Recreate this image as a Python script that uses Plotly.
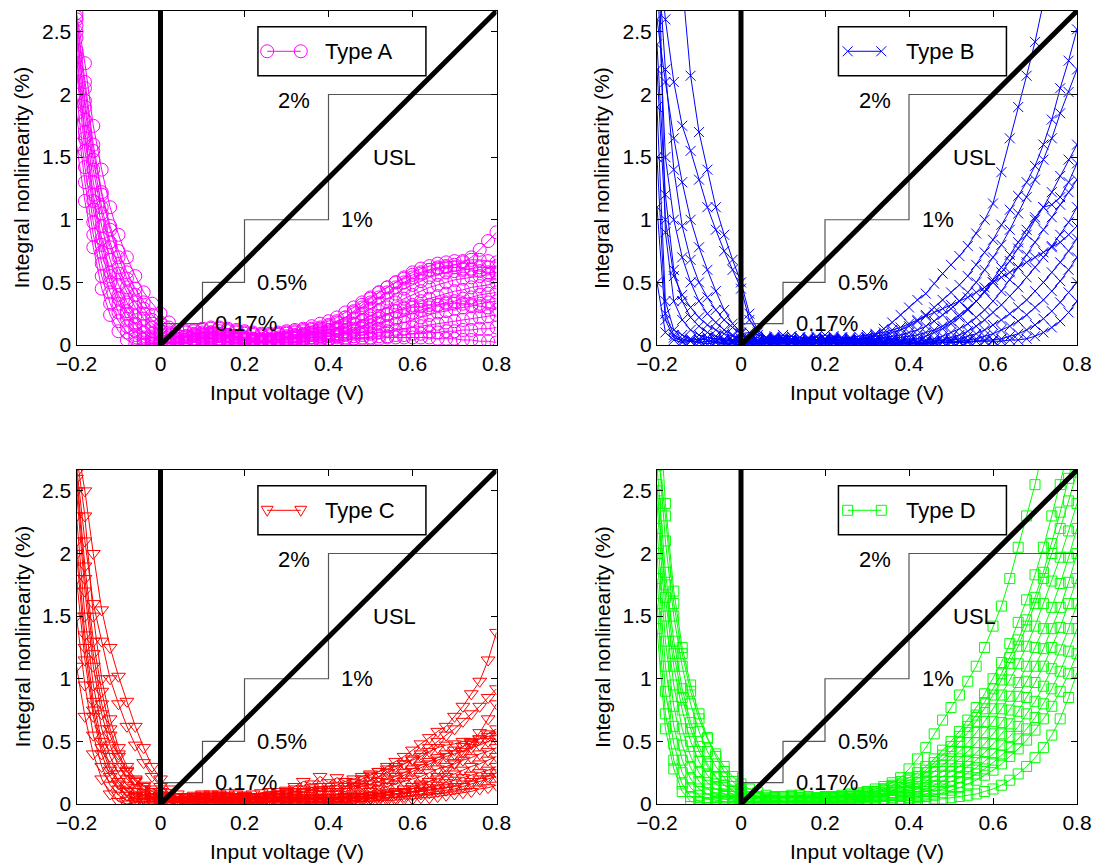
import plotly.graph_objects as go

# ---------------- data ----------------
VOLTS = [-0.20, -0.18, -0.16, -0.14, -0.12, -0.10, -0.08, -0.06, -0.04, -0.02, 0.00,
         0.02, 0.04, 0.06, 0.08, 0.10, 0.12, 0.14, 0.16, 0.18, 0.20,
         0.22, 0.24, 0.26, 0.28, 0.30, 0.32, 0.34, 0.36, 0.38, 0.40,
         0.42, 0.44, 0.46, 0.48, 0.50, 0.52, 0.54, 0.56, 0.58, 0.60,
         0.62, 0.64, 0.66, 0.68, 0.70, 0.72, 0.74, 0.76, 0.78, 0.80]

X_TICKS = [-0.2, 0, 0.2, 0.4, 0.6, 0.8]
Y_TICKS = [0, 0.5, 1, 1.5, 2, 2.5]
Y_MAX = 2.6667

STEP_X = [0, 0.1, 0.1, 0.2, 0.2, 0.4, 0.4, 0.8]
STEP_Y = [0.17, 0.17, 0.5, 0.5, 1.0, 1.0, 2.0, 2.0]
USL_X = [0, 0.8]
USL_Y = [0, 2.6667]
ZERO_X = [0, 0]
ZERO_Y = [0, 2.6667]
LIMIT_LABELS = ["0.17%", "0.5%", "1%", "2%", "USL"]
LIMIT_LABEL_X = [0.125, 0.225, 0.425, 0.275, 0.50]
LIMIT_LABEL_Y = [0.17, 0.50, 1.00, 1.95, 1.50]

# Type A
A01 = [2.65,2.25,1.75,1.40,1.10,0.88,0.70,0.55,0.42,0.33,0.25, 0.18,0.12,0.10,0.11,0.12,0.13,0.13,0.12,0.11,0.10,0.09,0.08,0.08,0.09,0.10,0.11,0.12,0.13,0.14,0.16, 0.19,0.22,0.26,0.30,0.34,0.38,0.42,0.46,0.50,0.54,0.57,0.60,0.62,0.63,0.64,0.66,0.70,0.76,0.83,0.90]
A02 = [2.60,2.05,1.55,1.20,0.92,0.70,0.53,0.40,0.29,0.20,0.14, 0.10,0.08,0.07,0.08,0.09,0.10,0.11,0.11,0.10,0.09,0.08,0.07,0.07,0.08,0.09,0.10,0.11,0.12,0.13,0.15, 0.18,0.22,0.27,0.32,0.37,0.42,0.46,0.50,0.54,0.58,0.61,0.63,0.65,0.66,0.67,0.67,0.68,0.68,0.67,0.66]
A03 = [2.55,1.90,1.40,1.05,0.78,0.57,0.42,0.30,0.21,0.14,0.09, 0.06,0.04,0.03,0.04,0.05,0.06,0.07,0.07,0.06,0.05,0.05,0.04,0.04,0.05,0.06,0.07,0.08,0.09,0.10,0.12, 0.14,0.17,0.21,0.25,0.29,0.33,0.37,0.41,0.45,0.48,0.51,0.54,0.56,0.58,0.59,0.60,0.61,0.62,0.62,0.63]
A04 = [2.45,1.80,1.30,0.95,0.68,0.48,0.34,0.23,0.15,0.09,0.05, 0.03,0.02,0.02,0.03,0.04,0.05,0.05,0.05,0.04,0.04,0.03,0.03,0.03,0.04,0.05,0.06,0.07,0.08,0.09,0.10, 0.12,0.14,0.17,0.20,0.23,0.27,0.30,0.34,0.37,0.40,0.43,0.46,0.48,0.50,0.52,0.53,0.54,0.55,0.56,0.57]
A05 = [2.35,1.70,1.20,0.85,0.58,0.40,0.27,0.17,0.10,0.05,0.02, 0.01,0.01,0.02,0.03,0.03,0.04,0.04,0.03,0.03,0.02,0.02,0.02,0.03,0.03,0.04,0.05,0.05,0.06,0.07,0.08, 0.09,0.11,0.13,0.15,0.18,0.21,0.24,0.27,0.30,0.32,0.35,0.37,0.39,0.41,0.43,0.44,0.46,0.47,0.48,0.50]
A06 = [2.20,1.55,1.08,0.74,0.50,0.33,0.21,0.12,0.06,0.03,0.01, 0.01,0.02,0.03,0.04,0.05,0.05,0.05,0.04,0.04,0.03,0.03,0.03,0.04,0.04,0.05,0.05,0.06,0.06,0.07,0.07, 0.08,0.09,0.11,0.13,0.15,0.17,0.19,0.21,0.23,0.26,0.28,0.30,0.32,0.34,0.35,0.37,0.38,0.40,0.41,0.42]
A07 = [2.00,1.42,0.98,0.65,0.42,0.26,0.15,0.08,0.04,0.02,0.01, 0.02,0.03,0.04,0.05,0.06,0.06,0.05,0.05,0.04,0.04,0.03,0.03,0.03,0.04,0.04,0.05,0.05,0.06,0.06,0.07, 0.07,0.08,0.09,0.10,0.12,0.13,0.15,0.17,0.18,0.20,0.22,0.24,0.26,0.27,0.29,0.30,0.31,0.33,0.34,0.35]
A08 = [1.85,1.30,0.88,0.55,0.33,0.19,0.10,0.05,0.02,0.01,0.00, 0.02,0.04,0.06,0.07,0.08,0.08,0.07,0.06,0.05,0.04,0.03,0.02,0.02,0.02,0.03,0.03,0.04,0.04,0.05,0.05, 0.06,0.06,0.07,0.08,0.09,0.10,0.11,0.12,0.13,0.14,0.15,0.16,0.17,0.18,0.19,0.20,0.21,0.22,0.23,0.24]
A09 = [1.60,1.15,0.78,0.45,0.24,0.11,0.04,0.01,0.00,0.01,0.02, 0.03,0.05,0.07,0.09,0.10,0.10,0.09,0.08,0.06,0.05,0.04,0.03,0.02,0.02,0.02,0.03,0.03,0.03,0.04,0.04, 0.04,0.05,0.05,0.06,0.06,0.07,0.07,0.08,0.08,0.09,0.09,0.10,0.10,0.11,0.11,0.12,0.12,0.13,0.13,0.14]
A10 = [2.62,2.10,1.60,1.22,0.95,0.75,0.58,0.45,0.34,0.24,0.17, 0.14,0.12,0.11,0.12,0.13,0.14,0.14,0.13,0.12,0.11,0.10,0.09,0.09,0.10,0.11,0.12,0.13,0.15,0.17,0.19, 0.22,0.26,0.30,0.34,0.38,0.42,0.46,0.50,0.53,0.56,0.58,0.60,0.61,0.62,0.62,0.61,0.60,0.59,0.58,0.58]
A11 = [2.50,1.95,1.48,1.10,0.82,0.62,0.46,0.34,0.25,0.17,0.11, 0.07,0.05,0.04,0.05,0.06,0.07,0.08,0.08,0.07,0.06,0.05,0.05,0.05,0.06,0.07,0.08,0.09,0.10,0.11,0.12, 0.13,0.15,0.17,0.19,0.21,0.23,0.25,0.27,0.29,0.30,0.31,0.32,0.32,0.33,0.33,0.33,0.32,0.31,0.30,0.28]
A12 = [2.30,1.65,1.15,0.80,0.55,0.37,0.25,0.16,0.10,0.06,0.03, 0.02,0.01,0.01,0.02,0.02,0.03,0.03,0.02,0.02,0.01,0.01,0.01,0.01,0.02,0.02,0.02,0.03,0.03,0.03,0.04, 0.04,0.04,0.05,0.05,0.05,0.05,0.06,0.06,0.06,0.06,0.06,0.06,0.05,0.05,0.05,0.04,0.04,0.03,0.03,0.02]

# Type B
B01 = [4.00,3.60,3.30,2.90,2.15,1.70,1.40,1.10,0.88,0.68,0.50, 0.25,0.12,0.06,0.05,0.05,0.04,0.03,0.03,0.04,0.05,0.05,0.04,0.04,0.05,0.06,0.08,0.13,0.18,0.24,0.30, 0.36,0.41,0.49,0.57,0.64,0.71,0.79,0.89,1.00,1.13,1.38,1.65,1.90,2.15,2.42,2.75,3.10,3.40,3.70,4.00]
B02 = [3.30,2.60,2.10,1.75,1.55,1.32,1.10,0.92,0.75,0.60,0.45, 0.20,0.10,0.06,0.05,0.06,0.07,0.06,0.05,0.04,0.05,0.06,0.06,0.05,0.05,0.06,0.07,0.08,0.10,0.12,0.15, 0.19,0.24,0.30,0.36,0.42,0.48,0.55,0.64,0.74,0.84,0.96,1.08,1.19,1.30,1.43,1.60,1.80,2.05,2.27,2.52]
B03 = [2.60,2.10,1.65,1.30,1.00,0.78,0.60,0.43,0.28,0.17,0.10, 0.04,0.03,0.05,0.06,0.05,0.04,0.04,0.05,0.06,0.05,0.04,0.04,0.05,0.04,0.05,0.05,0.06,0.07,0.08,0.10, 0.12,0.15,0.19,0.24,0.29,0.35,0.42,0.50,0.60,0.70,0.80,0.92,1.05,1.18,1.32,1.48,1.65,1.85,2.02,2.20]
B04 = [3.00,1.50,1.00,0.70,0.50,0.35,0.25,0.18,0.12,0.08,0.05, 0.03,0.02,0.03,0.04,0.03,0.02,0.03,0.04,0.03,0.02,0.03,0.04,0.03,0.03,0.04,0.04,0.05,0.05,0.06,0.07, 0.08,0.10,0.12,0.15,0.19,0.24,0.29,0.35,0.42,0.50,0.58,0.67,0.77,0.88,1.00,1.10,1.22,1.35,1.48,1.60]
B05 = [2.40,1.20,0.60,0.35,0.22,0.15,0.10,0.07,0.05,0.04,0.03, 0.02,0.03,0.02,0.03,0.04,0.03,0.02,0.02,0.03,0.04,0.03,0.02,0.03,0.03,0.02,0.03,0.03,0.04,0.04,0.05, 0.05,0.07,0.10,0.13,0.17,0.22,0.28,0.35,0.43,0.52,0.62,0.72,0.82,0.92,1.02,1.10,1.12,1.18,1.30,1.45]
B06 = [1.90,0.35,0.12,0.08,0.05,0.04,0.06,0.05,0.03,0.04,0.02, 0.05,0.06,0.04,0.03,0.04,0.05,0.06,0.05,0.04,0.03,0.04,0.05,0.04,0.03,0.03,0.03,0.03,0.03,0.03,0.03, 0.03,0.04,0.05,0.07,0.10,0.13,0.17,0.22,0.28,0.35,0.43,0.52,0.62,0.72,0.82,0.92,1.02,1.12,1.22,1.32]
B07 = [1.50,0.25,0.08,0.05,0.03,0.05,0.04,0.03,0.02,0.03,0.01, 0.02,0.01,0.02,0.02,0.03,0.02,0.01,0.02,0.02,0.03,0.02,0.01,0.02,0.02,0.02,0.02,0.02,0.02,0.02,0.02, 0.02,0.03,0.03,0.04,0.06,0.08,0.11,0.15,0.20,0.26,0.32,0.39,0.46,0.54,0.62,0.70,0.79,0.88,0.98,1.10]
B08 = [1.10,0.20,0.06,0.03,0.04,0.02,0.03,0.02,0.01,0.02,0.01, 0.01,0.02,0.01,0.01,0.02,0.02,0.01,0.01,0.02,0.02,0.01,0.01,0.02,0.02,0.01,0.01,0.02,0.02,0.02,0.02, 0.02,0.02,0.03,0.03,0.04,0.05,0.07,0.09,0.12,0.16,0.20,0.25,0.30,0.36,0.43,0.50,0.58,0.66,0.75,0.85]
B09 = [0.50,0.10,0.04,0.02,0.03,0.02,0.01,0.02,0.01,0.01,0.00, 0.01,0.01,0.02,0.01,0.01,0.01,0.02,0.01,0.01,0.01,0.02,0.01,0.01,0.01,0.01,0.01,0.01,0.01,0.01,0.01, 0.01,0.02,0.02,0.02,0.03,0.03,0.04,0.05,0.07,0.09,0.12,0.15,0.19,0.24,0.30,0.36,0.43,0.51,0.60,0.70]
B10 = [3.80,0.90,0.35,0.20,0.12,0.08,0.06,0.05,0.04,0.03,0.02, 0.02,0.03,0.04,0.05,0.04,0.03,0.02,0.03,0.04,0.05,0.04,0.03,0.02,0.02,0.01,0.01,0.01,0.01,0.01,0.01, 0.01,0.01,0.02,0.02,0.02,0.03,0.03,0.03,0.04,0.04,0.05,0.07,0.09,0.12,0.16,0.21,0.27,0.34,0.42,0.50]
B11 = [2.20,1.00,0.55,0.40,0.30,0.22,0.16,0.12,0.09,0.07,0.05, 0.03,0.04,0.03,0.02,0.02,0.03,0.03,0.02,0.02,0.03,0.02,0.02,0.01,0.01,0.01,0.01,0.01,0.01,0.01,0.01, 0.01,0.01,0.01,0.02,0.02,0.02,0.02,0.03,0.03,0.03,0.03,0.04,0.04,0.05,0.07,0.10,0.14,0.19,0.26,0.35]
B12 = [3.20,2.20,1.40,0.95,0.68,0.50,0.38,0.28,0.20,0.14,0.09, 0.10,0.08,0.06,0.07,0.08,0.07,0.06,0.06,0.07,0.08,0.07,0.06,0.06,0.07,0.08,0.09,0.10,0.12,0.14,0.17, 0.20,0.23,0.26,0.29,0.32,0.35,0.38,0.42,0.46,0.50,0.54,0.58,0.62,0.66,0.70,0.74,0.78,0.82,0.88,0.95]

# Type C
C01 = [2.90,2.50,2.00,1.55,1.25,1.02,0.82,0.62,0.45,0.30,0.20, 0.12,0.08,0.06,0.05,0.06,0.07,0.08,0.09,0.08,0.07,0.06,0.06,0.07,0.08,0.09,0.10,0.10,0.11,0.11,0.12, 0.12,0.14,0.17,0.20,0.23,0.26,0.30,0.34,0.38,0.43,0.48,0.53,0.58,0.62,0.70,0.78,0.88,0.98,1.15,1.37]
C02 = [2.70,2.10,1.60,1.30,1.00,0.80,0.62,0.47,0.33,0.22,0.14, 0.09,0.06,0.05,0.04,0.05,0.06,0.07,0.07,0.06,0.05,0.05,0.06,0.07,0.07,0.08,0.08,0.09,0.09,0.10,0.10, 0.10,0.12,0.14,0.16,0.19,0.22,0.25,0.28,0.32,0.36,0.40,0.45,0.50,0.55,0.60,0.66,0.72,0.78,0.85,0.92]
C03 = [2.65,1.90,1.30,0.90,0.60,0.40,0.27,0.18,0.12,0.08,0.05, 0.04,0.03,0.03,0.04,0.05,0.05,0.04,0.04,0.05,0.05,0.04,0.04,0.05,0.06,0.06,0.07,0.07,0.08,0.08,0.08, 0.08,0.10,0.12,0.14,0.16,0.18,0.20,0.22,0.25,0.28,0.31,0.34,0.37,0.40,0.43,0.46,0.49,0.52,0.56,0.60]
C04 = [2.50,1.70,1.10,0.72,0.47,0.30,0.20,0.13,0.09,0.06,0.04, 0.03,0.02,0.03,0.03,0.04,0.04,0.03,0.03,0.04,0.04,0.05,0.05,0.06,0.08,0.10,0.14,0.18,0.16,0.22,0.17, 0.21,0.18,0.15,0.12,0.13,0.15,0.17,0.20,0.23,0.26,0.29,0.32,0.35,0.38,0.40,0.42,0.45,0.47,0.50,0.52]
C05 = [2.30,1.50,0.95,0.60,0.38,0.24,0.15,0.10,0.07,0.05,0.03, 0.02,0.02,0.03,0.03,0.02,0.02,0.03,0.03,0.03,0.02,0.02,0.03,0.03,0.03,0.04,0.04,0.04,0.04,0.05,0.05, 0.05,0.06,0.07,0.08,0.10,0.12,0.14,0.16,0.18,0.20,0.22,0.25,0.28,0.30,0.32,0.35,0.37,0.40,0.42,0.45]
C06 = [2.10,1.35,0.82,0.50,0.30,0.18,0.11,0.07,0.05,0.04,0.03, 0.02,0.03,0.04,0.04,0.03,0.03,0.02,0.02,0.03,0.03,0.04,0.04,0.03,0.03,0.03,0.03,0.04,0.04,0.04,0.04, 0.04,0.05,0.05,0.06,0.07,0.08,0.09,0.10,0.12,0.14,0.16,0.18,0.20,0.22,0.24,0.27,0.30,0.32,0.35,0.38]
C07 = [1.80,1.15,0.70,0.40,0.22,0.12,0.07,0.05,0.04,0.03,0.02, 0.02,0.01,0.01,0.02,0.02,0.02,0.01,0.01,0.02,0.02,0.02,0.02,0.02,0.02,0.03,0.03,0.03,0.03,0.03,0.03, 0.03,0.04,0.04,0.05,0.05,0.06,0.07,0.08,0.09,0.10,0.11,0.13,0.15,0.17,0.19,0.21,0.23,0.25,0.27,0.30]
C08 = [1.50,0.95,0.55,0.30,0.15,0.07,0.03,0.02,0.02,0.02,0.01, 0.01,0.01,0.02,0.02,0.01,0.01,0.01,0.02,0.02,0.01,0.01,0.01,0.02,0.02,0.02,0.02,0.02,0.02,0.02,0.02, 0.02,0.02,0.03,0.03,0.04,0.04,0.05,0.05,0.06,0.07,0.08,0.09,0.10,0.11,0.12,0.14,0.16,0.18,0.20,0.22]
C09 = [1.10,0.70,0.40,0.20,0.08,0.02,0.00,0.01,0.01,0.02,0.01, 0.01,0.02,0.02,0.01,0.01,0.01,0.01,0.01,0.01,0.01,0.01,0.01,0.01,0.01,0.01,0.01,0.01,0.01,0.01,0.01, 0.01,0.01,0.02,0.02,0.02,0.03,0.03,0.03,0.04,0.04,0.05,0.05,0.06,0.07,0.08,0.09,0.10,0.12,0.13,0.15]
C10 = [2.80,2.30,1.50,1.00,0.68,0.45,0.30,0.20,0.14,0.10,0.07, 0.06,0.05,0.06,0.07,0.08,0.08,0.07,0.06,0.06,0.07,0.08,0.09,0.10,0.10,0.11,0.12,0.12,0.13,0.14,0.14, 0.15,0.18,0.20,0.22,0.24,0.26,0.28,0.30,0.32,0.35,0.38,0.42,0.45,0.47,0.48,0.50,0.50,0.52,0.54,0.55]
C11 = [2.60,1.80,1.20,0.80,0.55,0.38,0.26,0.19,0.15,0.12,0.10, 0.07,0.06,0.05,0.06,0.07,0.06,0.05,0.05,0.04,0.04,0.03,0.03,0.03,0.03,0.02,0.02,0.02,0.02,0.02,0.02, 0.02,0.03,0.03,0.04,0.05,0.06,0.07,0.08,0.10,0.12,0.15,0.18,0.22,0.27,0.33,0.40,0.48,0.57,0.68,0.80]
C12 = [2.00,1.25,0.75,0.45,0.27,0.16,0.10,0.06,0.04,0.02,0.01, 0.02,0.02,0.03,0.04,0.05,0.06,0.06,0.05,0.05,0.06,0.06,0.05,0.05,0.05,0.05,0.05,0.05,0.05,0.05,0.05, 0.05,0.05,0.06,0.06,0.07,0.07,0.08,0.08,0.09,0.10,0.10,0.11,0.12,0.13,0.14,0.16,0.18,0.20,0.22,0.25]

# Type D
D01 = [3.50,2.40,1.70,1.25,0.95,0.72,0.53,0.38,0.26,0.18,0.12, 0.08,0.06,0.05,0.05,0.06,0.06,0.05,0.05,0.05,0.06,0.06,0.07,0.08,0.09,0.10,0.12,0.14,0.17,0.21,0.28, 0.36,0.45,0.56,0.67,0.77,0.87,0.98,1.10,1.25,1.42,1.58,1.80,2.05,2.30,2.55,2.85,3.20,3.50,3.80,4.10]
D02 = [3.00,2.10,1.50,1.10,0.80,0.58,0.42,0.30,0.21,0.14,0.09, 0.06,0.05,0.04,0.04,0.05,0.05,0.04,0.04,0.04,0.05,0.05,0.06,0.06,0.07,0.08,0.10,0.12,0.15,0.18,0.21, 0.25,0.30,0.36,0.43,0.50,0.58,0.67,0.77,0.88,1.00,1.13,1.28,1.45,1.63,1.83,2.05,2.30,2.55,2.80,3.10]
D03 = [2.70,1.85,1.30,0.92,0.65,0.46,0.32,0.22,0.15,0.10,0.07, 0.05,0.04,0.03,0.03,0.04,0.04,0.03,0.03,0.04,0.04,0.05,0.05,0.06,0.07,0.08,0.09,0.11,0.13,0.15,0.17, 0.20,0.25,0.30,0.36,0.42,0.49,0.57,0.66,0.76,0.87,0.99,1.12,1.26,1.42,1.60,1.80,2.00,2.20,2.42,2.65]
D04 = [2.55,1.65,1.10,0.75,0.50,0.34,0.23,0.16,0.11,0.08,0.05, 0.04,0.03,0.03,0.03,0.02,0.02,0.03,0.03,0.03,0.04,0.04,0.05,0.05,0.06,0.07,0.08,0.09,0.11,0.13,0.15, 0.17,0.21,0.26,0.31,0.36,0.42,0.49,0.57,0.66,0.76,0.87,0.99,1.12,1.26,1.42,1.60,1.78,1.97,2.18,2.40]
D05 = [2.40,1.50,0.95,0.60,0.38,0.25,0.17,0.12,0.08,0.06,0.04, 0.03,0.02,0.02,0.02,0.03,0.03,0.02,0.02,0.03,0.03,0.03,0.04,0.04,0.05,0.06,0.07,0.08,0.09,0.10,0.12, 0.14,0.18,0.22,0.26,0.31,0.36,0.42,0.49,0.57,0.66,0.76,0.86,0.97,1.10,1.25,1.40,1.57,1.76,1.97,2.20]
D06 = [2.20,1.30,0.78,0.47,0.29,0.18,0.12,0.08,0.06,0.04,0.03, 0.02,0.02,0.03,0.03,0.02,0.02,0.02,0.02,0.02,0.03,0.03,0.03,0.04,0.04,0.05,0.06,0.07,0.08,0.09,0.10, 0.12,0.15,0.18,0.22,0.26,0.30,0.35,0.41,0.48,0.56,0.65,0.75,0.86,0.98,1.10,1.24,1.40,1.57,1.77,2.00]
D07 = [2.00,1.10,0.62,0.35,0.20,0.12,0.08,0.05,0.04,0.03,0.02, 0.02,0.01,0.01,0.02,0.02,0.01,0.01,0.02,0.02,0.02,0.02,0.03,0.03,0.04,0.04,0.05,0.06,0.07,0.08,0.09, 0.10,0.12,0.15,0.18,0.22,0.26,0.30,0.35,0.41,0.48,0.56,0.64,0.74,0.85,0.97,1.10,1.25,1.41,1.60,1.80]
D08 = [1.80,0.90,0.48,0.25,0.13,0.07,0.04,0.03,0.02,0.02,0.01, 0.01,0.01,0.01,0.01,0.02,0.02,0.01,0.01,0.01,0.02,0.02,0.02,0.02,0.03,0.03,0.04,0.04,0.05,0.06,0.07, 0.08,0.10,0.12,0.15,0.18,0.21,0.25,0.29,0.34,0.40,0.47,0.54,0.62,0.72,0.82,0.94,1.08,1.23,1.40,1.60]
D09 = [1.60,0.72,0.35,0.16,0.06,0.02,0.01,0.01,0.02,0.01,0.01, 0.01,0.01,0.01,0.01,0.01,0.01,0.01,0.01,0.01,0.01,0.01,0.02,0.02,0.02,0.02,0.03,0.03,0.04,0.04,0.05, 0.06,0.08,0.10,0.12,0.14,0.17,0.20,0.24,0.28,0.33,0.39,0.45,0.52,0.60,0.69,0.80,0.92,1.06,1.22,1.40]
D10 = [1.40,0.60,0.28,0.10,0.02,0.01,0.01,0.02,0.01,0.01,0.00, 0.01,0.01,0.01,0.01,0.01,0.01,0.01,0.01,0.01,0.01,0.01,0.01,0.01,0.01,0.02,0.02,0.02,0.03,0.03,0.04, 0.05,0.06,0.07,0.09,0.11,0.13,0.16,0.19,0.23,0.27,0.32,0.38,0.44,0.51,0.59,0.68,0.78,0.90,1.04,1.20]
D11 = [2.90,2.30,1.60,1.20,0.90,0.68,0.52,0.40,0.30,0.22,0.16, 0.12,0.09,0.07,0.06,0.06,0.07,0.07,0.06,0.05,0.05,0.04,0.04,0.04,0.03,0.03,0.03,0.03,0.03,0.03,0.03, 0.03,0.03,0.04,0.04,0.05,0.06,0.07,0.08,0.10,0.12,0.15,0.19,0.24,0.30,0.37,0.45,0.55,0.68,0.85,1.05]
D12 = [2.50,1.75,1.20,0.85,0.60,0.42,0.30,0.21,0.15,0.11,0.08, 0.06,0.05,0.04,0.05,0.06,0.06,0.05,0.04,0.04,0.05,0.05,0.06,0.07,0.08,0.09,0.10,0.12,0.14,0.16,0.19, 0.22,0.27,0.33,0.39,0.46,0.54,0.62,0.71,0.81,0.92,1.04,1.17,1.31,1.47,1.65,1.85,2.08,2.33,2.60,2.90]

TYPE_A = [A01, A02, A03, A04, A05, A06, A07, A08, A09, A10, A11, A12]
TYPE_B = [B01, B02, B03, B04, B05, B06, B07, B08, B09, B10, B11, B12]
TYPE_C = [C01, C02, C03, C04, C05, C06, C07, C08, C09, C10, C11, C12]
TYPE_D = [D01, D02, D03, D04, D05, D06, D07, D08, D09, D10, D11, D12]
SERIES_NAMES = ["Type A", "Type B", "Type C", "Type D"]

for grp in (TYPE_A, TYPE_B, TYPE_C, TYPE_D):
    for c in grp:
        assert len(c) == len(VOLTS), len(c)

# ---------------- styling ----------------
FONT = "Liberation Sans, Arial, Helvetica, sans-serif"
W, H = 1101, 867
COLORS = ["#FF00FF", "#0000FF", "#FF0000", "#00FF00"]
SYMBOLS = ["circle-open", "x-thin", "triangle-down-open", "square-open"]
MSIZES = [13, 10, 12, 10]

# pixel boxes (left, right, top, bottom)
BOXES = [(76.5, 496.5, 11, 345), (657, 1077, 11, 345),
         (76.5, 496.5, 470, 804), (657, 1077, 470, 804)]

fig = go.Figure()

def px_x(p):
    return p / W

def px_y(p):
    return (H - p) / H

for i, (curves, color, sym, ms, name) in enumerate(zip(
        [TYPE_A, TYPE_B, TYPE_C, TYPE_D], COLORS, SYMBOLS, MSIZES, SERIES_NAMES)):
    xa = "x" if i == 0 else f"x{i+1}"
    ya = "y" if i == 0 else f"y{i+1}"
    for c in curves:
        fig.add_trace(go.Scatter(
            x=VOLTS, y=c, mode="lines+markers", name=name, showlegend=False,
            line=dict(color=color, width=1),
            marker=dict(symbol=sym, size=ms, color=color,
                        line=dict(color=color, width=1)),
            xaxis=xa, yaxis=ya, hoverinfo="skip"))
    fig.add_trace(go.Scatter(x=STEP_X, y=STEP_Y, mode="lines", showlegend=False,
                             line=dict(color="#555555", width=1.2),
                             xaxis=xa, yaxis=ya, hoverinfo="skip"))
    fig.add_trace(go.Scatter(x=ZERO_X, y=ZERO_Y, mode="lines", showlegend=False,
                             line=dict(color="black", width=5),
                             xaxis=xa, yaxis=ya, hoverinfo="skip"))
    fig.add_trace(go.Scatter(x=USL_X, y=USL_Y, mode="lines", showlegend=False,
                             line=dict(color="black", width=5),
                             xaxis=xa, yaxis=ya, hoverinfo="skip"))

    l, r, t, b = BOXES[i]
    axis_common = dict(showline=True, linecolor="black", linewidth=1, mirror="ticks",
                       ticks="inside", ticklen=6, tickwidth=1, tickcolor="black",
                       showgrid=False, zeroline=False, automargin=False,
                       tickfont=dict(family=FONT, size=21, color="black"))
    fig.layout[("xaxis" if i == 0 else f"xaxis{i+1}")] = dict(
        domain=[px_x(l), px_x(r)], range=[-0.2, 0.8], tickvals=X_TICKS,
        anchor=ya, **axis_common)
    fig.layout[("yaxis" if i == 0 else f"yaxis{i+1}")] = dict(
        domain=[px_y(b), px_y(t)], range=[0, Y_MAX], tickvals=Y_TICKS,
        anchor=xa, **axis_common)

    # limit labels
    for txt, tx, ty in zip(LIMIT_LABELS, LIMIT_LABEL_X, LIMIT_LABEL_Y):
        fig.add_annotation(x=tx, y=ty, xref=xa, yref=ya, text=txt, showarrow=False,
                           xanchor="left", yanchor="middle",
                           font=dict(family=FONT, size=22, color="black"))

    # axis titles
    fig.add_annotation(x=px_x((l + r) / 2), y=px_y(b + 47), xref="paper", yref="paper",
                       text="Input voltage (V)", showarrow=False,
                       xanchor="center", yanchor="middle",
                       font=dict(family=FONT, size=21, color="black"))
    fig.add_annotation(x=px_x(l - 55), y=px_y((t + b) / 2), xref="paper", yref="paper",
                       text="Integral nonlinearity (%)", showarrow=False, textangle=-90,
                       xanchor="center", yanchor="middle",
                       font=dict(family=FONT, size=21, color="black"))

    # legend box (drawn like the MATLAB legend)
    fig.add_shape(type="rect", xref=xa, yref=ya, x0=0.232, x1=0.632, y0=2.15, y1=2.54,
                  line=dict(color="black", width=1.5), fillcolor="white", layer="above")
    ly = 2.345
    fig.add_shape(type="line", xref=xa, yref=ya, x0=0.254, x1=0.334, y0=ly, y1=ly,
                  line=dict(color=color, width=1), layer="above")
    for mx in (0.254, 0.334):
        common = dict(xref=xa, yref=ya, xsizemode="pixel", ysizemode="pixel",
                      xanchor=mx, yanchor=ly, line=dict(color=color, width=1),
                      layer="above")
        if i == 0:
            fig.add_shape(type="circle", x0=-6.5, x1=6.5, y0=-6.5, y1=6.5, **common)
        elif i == 1:
            fig.add_shape(type="path", path="M-5,-5L5,5M-5,5L5,-5", **common)
        elif i == 2:
            fig.add_shape(type="path", path="M-6,4L6,4L0,-6Z", **common)
        else:
            fig.add_shape(type="rect", x0=-5, x1=5, y0=-5, y1=5, **common)
    fig.add_annotation(x=0.388, y=ly, xref=xa, yref=ya, text=name, showarrow=False,
                       xanchor="left", yanchor="middle",
                       font=dict(family=FONT, size=22, color="black"))

fig.update_layout(width=W, height=H, margin=dict(l=0, r=0, t=0, b=0, autoexpand=False),
                  paper_bgcolor="white", plot_bgcolor="white", showlegend=False,
                  font=dict(family=FONT, color="black"))

fig.write_html("out.html")
